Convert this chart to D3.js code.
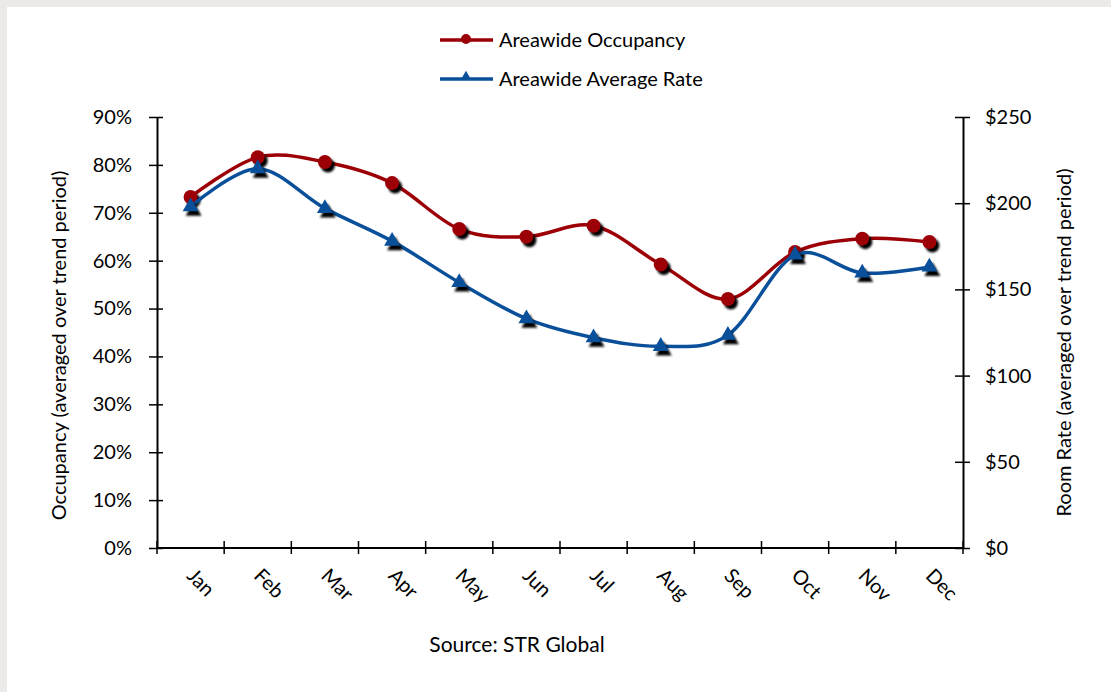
<!DOCTYPE html>
<html>
<head>
<meta charset="utf-8">
<script src="https://cdn.jsdelivr.net/npm/d3@7"></script>
<style>
  html, body { margin: 0; padding: 0; background: #ffffff; }
  svg { display: block; font-family: Lato, "Open Sans", sans-serif; }
</style>
</head>
<body>
<svg id="chart" width="1111" height="692"></svg>
<script>
// Monthly trend data
const months = ["Jan", "Feb", "Mar", "Apr", "May", "Jun", "Jul", "Aug", "Sep", "Oct", "Nov", "Dec"];
const occupancy = [73.3, 81.6, 80.6, 76.2, 66.6, 65.0, 67.3, 59.2, 52.0, 61.8, 64.6, 63.9]; // percent
const avgRate = [198, 220, 197, 178, 154, 133, 122, 117, 123.5, 170, 159.5, 163];       // dollars
const occTicks = [0, 10, 20, 30, 40, 50, 60, 70, 80, 90];
const rateTicks = [0, 50, 100, 150, 200, 250];

const W = 1111, H = 692;
const margin = { left: 157, right: 963, top: 117, bottom: 548 };
const red = "#9c0006", blue = "#0a4f9a";
const FONT = "Lato, 'Open Sans', sans-serif";

const svg = d3.select("#chart");

// frame
svg.append("rect").attr("width", W).attr("height", H).attr("fill", "#ebeae8");
svg.append("rect").attr("x", 7).attr("y", 7).attr("width", W - 7).attr("height", H - 7).attr("fill", "#ffffff");

const defs = svg.append("defs");
defs.append("filter").attr("id", "soft").attr("x", "-50%").attr("y", "-50%").attr("width", "200%").attr("height", "200%")
  .append("feGaussianBlur").attr("stdDeviation", 0.8);

const x = d3.scaleBand().domain(months).range([margin.left, margin.right]);
const yL = d3.scaleLinear().domain([0, 90]).range([margin.bottom, margin.top]);
const yR = d3.scaleLinear().domain([0, 250]).range([margin.bottom, margin.top]);
const cx = m => x(m) + x.bandwidth() / 2;

// axes
const axisStyle = g => {
  g.attr("font-family", FONT);
  g.selectAll("path.domain").attr("stroke", "#000").attr("stroke-width", 2);
  g.selectAll(".tick text").attr("fill", "#000").attr("font-size", 20);
};

const gL = svg.append("g").attr("transform", `translate(${margin.left},0)`)
  .call(d3.axisLeft(yL).tickValues(occTicks).tickFormat(d => d + "%").tickSize(0).tickPadding(25))
  .call(axisStyle);
gL.selectAll(".tick").append("line").attr("x1", -8).attr("x2", 6).attr("stroke", "#000").attr("stroke-width", 1.5);

const gR = svg.append("g").attr("transform", `translate(${margin.right},0)`)
  .call(d3.axisRight(yR).tickValues(rateTicks).tickFormat(d => "$" + d).tickSize(0).tickPadding(22))
  .call(axisStyle);
gR.selectAll(".tick").append("line").attr("x1", -8).attr("x2", 7).attr("stroke", "#000").attr("stroke-width", 1.5);

const tickEdges = d3.range(months.length + 1).map(i => margin.left + i * x.step());
const gB = svg.append("g").attr("transform", `translate(0,${margin.bottom})`);
gB.append("line").attr("x1", margin.left).attr("x2", margin.right).attr("stroke", "#000").attr("stroke-width", 2);
gB.selectAll("line.tk").data(tickEdges).join("line").attr("class", "tk")
  .attr("x1", d => d).attr("x2", d => d).attr("y1", -7).attr("y2", 6)
  .attr("stroke", "#000").attr("stroke-width", 1.5);
gB.selectAll("text").data(months).join("text")
  .attr("transform", d => `translate(${cx(d)},${24}) rotate(45)`)
  .attr("dy", "0.35em")
  .attr("font-size", 20).attr("fill", "#000")
  .text(d => d);

// axis titles
svg.append("text")
  .attr("transform", `translate(66,${(margin.top + margin.bottom) / 2 + 13}) rotate(-90)`)
  .attr("text-anchor", "middle").attr("font-size", 20).attr("fill", "#000")
  .text("Occupancy (averaged over trend period)");
svg.append("text")
  .attr("transform", `translate(1071,${(margin.top + margin.bottom) / 2 + 10}) rotate(-90)`)
  .attr("text-anchor", "middle").attr("font-size", 20).attr("fill", "#000")
  .text("Room Rate (averaged over trend period)");

// source note
svg.append("text").attr("x", 517).attr("y", 652).attr("text-anchor", "middle")
  .attr("font-size", 21).attr("fill", "#000").text("Source: STR Global");

// series
const curve = d3.curveCatmullRom.alpha(0);
const occPts = months.map((m, i) => [cx(m), yL(occupancy[i])]);
const ratePts = months.map((m, i) => [cx(m), yR(avgRate[i])]);

const tri = d3.symbol().type(d3.symbolTriangle).size(110);

function drawSeries(pts, color, marker) {
  svg.append("path").attr("d", d3.line().curve(curve)(pts))
    .attr("fill", "none").attr("stroke", color).attr("stroke-width", 3.5);
  const g = svg.append("g");
  pts.forEach(([px, py]) => {
    if (marker === "circle") {
      g.append("circle").attr("cx", px + 3).attr("cy", py + 3.5).attr("r", 7).attr("fill", "#000").attr("filter", "url(#soft)");
      g.append("circle").attr("cx", px).attr("cy", py).attr("r", 7).attr("fill", color);
    } else {
      g.append("path").attr("d", tri).attr("transform", `translate(${px + 3},${py + 4.5})`).attr("fill", "#000").attr("filter", "url(#soft)");
      g.append("path").attr("d", tri).attr("transform", `translate(${px},${py})`).attr("fill", color);
    }
  });
}
drawSeries(occPts, red, "circle");
drawSeries(ratePts, blue, "triangle");

// legend
const legend = [
  { name: "Areawide Occupancy", color: red, marker: "circle", y: 40 },
  { name: "Areawide Average Rate", color: blue, marker: "triangle", y: 79 }
];
legend.forEach(l => {
  svg.append("line").attr("x1", 440).attr("x2", 493).attr("y1", l.y).attr("y2", l.y)
    .attr("stroke", l.color).attr("stroke-width", 3.5);
  if (l.marker === "circle") {
    svg.append("circle").attr("cx", 466).attr("cy", l.y - 1).attr("r", 5).attr("fill", l.color);
  } else {
    svg.append("path").attr("d", d3.symbol().type(d3.symbolTriangle).size(50)).attr("transform", `translate(466,${l.y - 2})`).attr("fill", l.color);
  }
  svg.append("text").attr("x", 499).attr("y", l.y).attr("dy", "0.35em")
    .attr("font-size", 20).attr("fill", "#000").text(l.name);
});
</script>
</body>
</html>
